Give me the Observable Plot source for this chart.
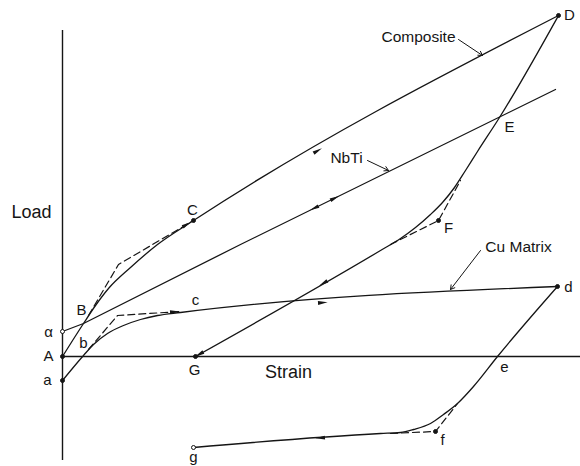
<!DOCTYPE html>
<html>
<head>
<meta charset="utf-8">
<script src="https://cdn.jsdelivr.net/npm/d3@7"></script>
<script src="https://cdn.jsdelivr.net/npm/@observablehq/plot@0.6"></script>
<style>
  html, body { margin: 0; padding: 0; background: white; }
  #chart svg { display: block; }
</style>
</head>
<body>
<div id="chart"></div>
<script>
// Schematic load–strain curves (arbitrary units: strain, load)
const compositeLoading = [[0,0],[2.1,3.3],[3.3,5.1],[4.6,6.8],[6.8,8.9],[9.5,11.2],[13.1,13.6],[49.6,34.1]];
const compositeIdeal   = [[2.6,4.1],[5.6,9.2],[13.1,13.6]];
const nbtiLine         = [[0,2.5],[2.1,3.3],[17.8,11.2],[49.3,26.7]];
const cuLoading        = [[0,-2.4],[2.1,0.1],[3.1,1.2],[4.5,2.3],[6.1,3.1],[7.8,3.7],[9.5,4.1],[11.8,4.4],[49.5,7.0]];
const cuIdeal          = [[2.6,0.7],[5.5,4.1],[11.8,4.5]];
const compositeUnload  = [[13.3,0],[31.8,10.6],[33.8,11.8],[35.3,12.9],[36.8,14.2],[38.0,15.4],[39.2,16.9],[40.3,18.6],[41.5,20.5],[43.7,23.9],[49.6,34.1]];
const compositeUnloadIdeal = [[32.8,11.2],[37.6,13.6],[39.8,17.6]];
const cuUnload         = [[13.1,-9.1],[31.8,-7.7],[33.8,-7.6],[35.1,-7.3],[36.8,-6.7],[38.1,-5.8],[39.5,-4.7],[41.1,-3.0],[43.5,0],[49.5,7.0]];
const cuUnloadIdeal    = [[32.8,-7.7],[37.3,-7.5],[39.5,-4.7]];

// Axis extents
const strainMax = 51.8;
const loadMin = -10.4, loadMax = 32.6;

// Marked points
const pointNames  = ["α","A","a","G","g","d","D","C","F","f"];
const pointStrain = [0,0,0,13.3,13.1,49.5,49.6,13.1,37.6,37.3];
const pointLoad   = [2.5,0,-2.4,0,-9.1,7.0,34.1,13.6,13.6,-7.5];
const pointOpen   = [true,false,false,false,true,false,false,false,false,false];

// Point labels
const labelText   = ["α","A","a","B","b","C","c","D","E","F","G","e","d","f","g"];
const labelStrain = [-1.4,-1.4,-1.5,1.9,2.1,13.0,13.3,50.7,44.7,38.6,13.2,44.2,50.6,38.0,13.1];
const labelLoad   = [2.4,0,-2.4,4.6,1.3,14.6,5.6,34.1,22.9,12.8,-1.4,-1.1,6.9,-8.4,-10.1];

// Direction arrows along curves: series, strain position, direction (+1 towards larger strain)
const arrowSeries = ["compositeLoading","nbtiLine","nbtiLine","cuLoading","compositeUnload","cuUnload","compositeUnload","compositeIdeal","cuIdeal"];
const arrowStrain = [25.5,25.2,27.2,26.0,26.1,25.8,13.7,12.4,11.2];
const arrowDir    = [1,-1,1,1,-1,-1,-1,1,1];

// Curve names with leader arrows
const names = [
  {text:"Composite", x:35.6, y:31.9, x1:39.6, y1:31.7, x2:42.0, y2:30.1},
  {text:"NbTi",      x:28.4, y:19.8, x1:30.5, y1:19.6, x2:32.6, y2:18.6},
  {text:"Cu Matrix", x:45.6, y:10.9, x1:41.8, y1:10.6, x2:38.8, y2:6.7}
];

const seriesMap = {compositeLoading, nbtiLine, cuLoading, compositeUnload, cuUnload, compositeIdeal, cuIdeal};

function along(series, x) {
  for (let i = 0; i < series.length - 1; i++) {
    const [x0,y0] = series[i], [x1,y1] = series[i+1];
    if (x >= Math.min(x0,x1) && x <= Math.max(x0,x1)) {
      const t = (x - x0) / (x1 - x0);
      return {x, y: y0 + t*(y1-y0), dx: x1-x0, dy: y1-y0};
    }
  }
  return null;
}
const arrows = arrowSeries.map((s,i) => {
  const p = along(seriesMap[s], arrowStrain[i]);
  const d = arrowDir[i];
  return {x: p.x, y: p.y, rot: Math.atan2(p.dx*d, p.dy*d) * 180 / Math.PI};
});

const head = {
  draw(context, size) {
    const r = Math.sqrt(size / Math.PI);
    context.moveTo(0, -1.6*r);
    context.lineTo(0.6*r, 1.4*r);
    context.lineTo(-0.6*r, 1.4*r);
    context.closePath();
  }
};

const points = pointNames.map((n,i) => ({n, x: pointStrain[i], y: pointLoad[i], open: pointOpen[i]}));
const labels = labelText.map((t,i) => ({t, x: labelStrain[i], y: labelLoad[i]}));
const xy = a => a.map(([x,y]) => ({x,y}));

const ink = "#151515";
const font = "Liberation Sans, Arial, Helvetica, sans-serif";

const solid = (s, curve) => Plot.line(xy(s), {x:"x", y:"y", stroke: ink, strokeWidth: 1.3, curve});
const dashed = s => Plot.line(xy(s), {x:"x", y:"y", stroke: ink, strokeWidth: 1.2, strokeDasharray: "7,4"});

const chart = Plot.plot({
  width: 580,
  height: 466,
  margin: 0,
  x: {domain: [-6.2, 51.8], axis: null},
  y: {domain: [-11, 35.6], axis: null},
  style: {background: "white", fontFamily: font},
  marks: [
    Plot.ruleX([0], {y1: loadMin, y2: loadMax, stroke: ink, strokeWidth: 1.4}),
    Plot.ruleY([0], {x1: 0, x2: strainMax, stroke: ink, strokeWidth: 1.3}),
    solid(compositeLoading, "monotone-x"),
    solid(nbtiLine, "linear"),
    solid(cuLoading, "monotone-x"),
    solid(compositeUnload, "monotone-x"),
    solid(cuUnload, "monotone-x"),
    dashed(compositeIdeal),
    dashed(cuIdeal),
    dashed(compositeUnloadIdeal),
    dashed(cuUnloadIdeal),
    Plot.dot(points, {x:"x", y:"y", r: 2, stroke: ink, strokeWidth: 1, fill: d => d.open ? "white" : ink}),
    Plot.dot(arrows, {x:"x", y:"y", rotate:"rot", symbol: head, r: 3.2, fill: ink, stroke: "none"}),
    Plot.arrow(names, {x1:"x1", y1:"y1", x2:"x2", y2:"y2", stroke: ink, strokeWidth: 1, headLength: 7}),
    Plot.text(names, {x:"x", y:"y", text:"text", fontSize: 15.5, fill: ink, fontFamily: font}),
    Plot.text(labels, {x:"x", y:"y", text:"t", fontSize: 15, fill: ink, fontFamily: font}),
    Plot.text(["Load"], {x: -3.1, y: 14.4, text: d => d, fontSize: 18, fill: ink, fontFamily: font}),
    Plot.text(["Strain"], {x: 28.8 - 6.2, y: -1.6, text: d => d, fontSize: 18, fill: ink, fontFamily: font})
  ]
});
document.getElementById("chart").appendChild(chart);
</script>
</body>
</html>
